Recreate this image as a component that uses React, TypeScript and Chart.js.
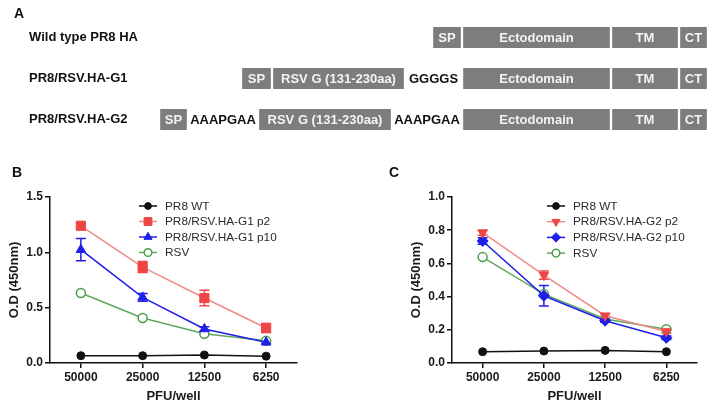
import React, { useEffect, useRef } from 'react';
import { Chart, registerables } from 'chart.js';

Chart.register(...registerables);

const FONT = '"Liberation Sans", Arial, Helvetica, sans-serif';

// ---------------- Panel A data ----------------
const constructNames = ['Wild type PR8 HA', 'PR8/RSV.HA-G1', 'PR8/RSV.HA-G2'];
const wtSegments = ['SP', 'Ectodomain', 'TM', 'CT'];
const wtLengths = [30, 149, 68, 29];
const g1Segments = ['SP', 'RSV G (131-230aa)', 'GGGGS', 'Ectodomain', 'TM', 'CT'];
const g1Lengths = [31, 133, 57, 149, 68, 29];
const g2Segments = ['SP', 'AAAPGAA', 'RSV G (131-230aa)', 'AAAPGAA', 'Ectodomain', 'TM', 'CT'];
const g2Lengths = [29, 70, 134, 70, 149, 68, 29];
const linkerNames = ['GGGGS', 'AAAPGAA'];

// ---------------- Panels B / C data ----------------
const categories = ['50000', '25000', '12500', '6250'];

const bLabels = ['PR8 WT', 'PR8/RSV.HA-G1 p2', 'PR8/RSV.HA-G1 p10', 'RSV'];
const bWT = [0.066, 0.066, 0.072, 0.062];
const bP2 = [1.24, 0.867, 0.587, 0.316];
const bP2Err = [0.03, 0.05, 0.07, 0.04];
const bP10 = [1.024, 0.593, 0.307, 0.187];
const bP10Err = [0.1, 0.035, 0.02, 0.01];
const bRSV = [0.633, 0.407, 0.265, 0.2];

const cLabels = ['PR8 WT', 'PR8/RSV.HA-G2 p2', 'PR8/RSV.HA-G2 p10', 'RSV'];
const cWT = [0.068, 0.072, 0.076, 0.068];
const cP2 = [0.785, 0.529, 0.285, 0.19];
const cP2Err = [0.015, 0.025, 0.01, 0.01];
const cP10 = [0.735, 0.405, 0.255, 0.152];
const cP10Err = [0.02, 0.062, 0.01, 0.01];
const cRSV = [0.638, 0.415, 0.265, 0.203];

const bTicks = [0, 0.5, 1.0, 1.5];
const cTicks = [0, 0.2, 0.4, 0.6, 0.8, 1.0];

// ---------------- Panel A chart ----------------
function makeDiagramConfig(): any {
  const segs = [wtSegments, g1Segments, g2Segments];
  const lens = [wtLengths, g1Lengths, g2Lengths];
  const END = 708;
  const maxSlots = Math.max(...segs.map((s) => s.length));
  const datasets: any[] = [];
  for (let k = 0; k < maxSlots; k++) {
    const data: any[] = [];
    const names: string[] = [];
    for (let i = 0; i < segs.length; i++) {
      const n = segs[i].length;
      const idx = n - 1 - k;
      if (idx < 0) {
        data.push(null);
        names.push('');
        continue;
      }
      let pos = END;
      for (let j = n - 1; j > idx; j--) pos -= lens[i][j];
      data.push([pos - lens[i][idx], pos]);
      names.push(segs[i][idx]);
    }
    datasets.push({
      data,
      names,
      grouped: false,
      barThickness: 21,
      borderSkipped: false,
      borderWidth: { top: 0, bottom: 0, left: 1.5, right: 1.5 },
      backgroundColor: (c: any) =>
        linkerNames.includes(c.dataset.names[c.dataIndex]) ? 'rgba(0,0,0,0)' : '#7d7d7d',
      borderColor: (c: any) =>
        linkerNames.includes(c.dataset.names[c.dataIndex]) ? 'rgba(0,0,0,0)' : '#ffffff',
    });
  }

  const labelPlugin = {
    id: 'diagramLabels',
    afterDatasetsDraw(chart: any) {
      const ctx = chart.ctx;
      ctx.save();
      ctx.textBaseline = 'middle';
      chart.data.datasets.forEach((ds: any, di: number) => {
        const meta = chart.getDatasetMeta(di);
        meta.data.forEach((el: any, i: number) => {
          const name = ds.names[i];
          if (!name) return;
          const { x, base, y } = el.getProps(['x', 'base', 'y'], true);
          const cx = (x + base) / 2;
          ctx.textAlign = 'center';
          if (linkerNames.includes(name)) {
            ctx.fillStyle = '#111';
            ctx.font = `bold 13px ${FONT}`;
          } else {
            ctx.fillStyle = '#f4f4f4';
            ctx.font = `bold 13px ${FONT}`;
          }
          ctx.fillText(name, cx, y + 0.5);
        });
      });
      const yScale = chart.scales.y;
      ctx.textAlign = 'left';
      ctx.fillStyle = '#111';
      ctx.font = `bold 13px ${FONT}`;
      constructNames.forEach((n, i) => {
        ctx.fillText(n, 29, yScale.getPixelForValue(i));
      });
      ctx.font = `bold 14px ${FONT}`;
      ctx.fillText('A', 14, 14);
      ctx.restore();
    },
  };

  return {
    type: 'bar',
    data: { labels: constructNames, datasets },
    options: {
      indexAxis: 'y',
      responsive: false,
      animation: false,
      devicePixelRatio: 1,
      layout: { padding: { top: 17, bottom: 0, left: 0, right: 0 } },
      scales: {
        x: { display: false, min: 0, max: 714 },
        y: { display: false },
      },
      plugins: { legend: { display: false }, tooltip: { enabled: false } },
    },
    plugins: [labelPlugin],
  };
}

// ---------------- markers ----------------
function drawMarker(ctx: CanvasRenderingContext2D, style: string, x: number, y: number, r: number, rotationDeg: number) {
  const rad0 = (rotationDeg * Math.PI) / 180;
  ctx.beginPath();
  if (style === 'circle') {
    ctx.arc(x, y, r, 0, Math.PI * 2);
  } else if (style === 'rect') {
    const s = Math.SQRT1_2 * r;
    ctx.rect(x - s, y - s, 2 * s, 2 * s);
  } else if (style === 'triangle') {
    let rad = rad0;
    ctx.moveTo(x + Math.sin(rad) * r, y - Math.cos(rad) * r);
    rad += (2 * Math.PI) / 3;
    ctx.lineTo(x + Math.sin(rad) * r, y - Math.cos(rad) * r);
    rad += (2 * Math.PI) / 3;
    ctx.lineTo(x + Math.sin(rad) * r, y - Math.cos(rad) * r);
    ctx.closePath();
  } else if (style === 'rectRot') {
    ctx.moveTo(x - r, y);
    ctx.lineTo(x, y - r);
    ctx.lineTo(x + r, y);
    ctx.lineTo(x, y + r);
    ctx.closePath();
  }
}

// ---------------- Panels B/C ----------------
const RED_LINE = '#f28a8a';
const RED_PT = '#ee4646';
const BLUE = '#1f1fe8';
const GREEN_LINE = '#5ea85e';
const GREEN_PT = '#4a9c4a';

function makeDatasets(labels: string[], wt: number[], p2: number[], p2e: number[], p10: number[], p10e: number[], rsv: number[], variant: 'B' | 'C') {
  return [
    {
      label: labels[0], data: wt, borderColor: '#111', backgroundColor: '#111',
      pointBackgroundColor: '#111', pointBorderColor: '#111', pointStyle: 'circle',
      pointRadius: 4, pointRotation: 0, borderWidth: 1.5, pointBorderWidth: 1, errors: null,
    },
    {
      label: labels[1], data: p2, borderColor: RED_LINE, backgroundColor: RED_PT,
      pointBackgroundColor: RED_PT, pointBorderColor: RED_PT,
      pointStyle: variant === 'B' ? 'rect' : 'triangle',
      pointRotation: variant === 'B' ? 0 : 180,
      pointRadius: variant === 'B' ? 6.5 : 5.5, borderWidth: 1.5, pointBorderWidth: 1,
      errors: p2e, errColor: RED_PT,
    },
    {
      label: labels[2], data: p10, borderColor: BLUE, backgroundColor: BLUE,
      pointBackgroundColor: BLUE, pointBorderColor: BLUE,
      pointStyle: variant === 'B' ? 'triangle' : 'rectRot', pointRotation: 0,
      pointRadius: 5.5, borderWidth: 1.5, pointBorderWidth: 1,
      errors: p10e, errColor: BLUE,
    },
    {
      label: labels[3], data: rsv, borderColor: GREEN_LINE, backgroundColor: '#ffffff',
      pointBackgroundColor: '#ffffff', pointBorderColor: GREEN_PT, pointStyle: 'circle',
      pointRadius: 4.5, pointRotation: 0, borderWidth: 1.5, pointBorderWidth: 1.5, errors: null,
    },
  ];
}

function makeLineConfig(p: {
  datasets: any[]; yMax: number; tickValues: number[]; padLeft: number; padRight: number;
  legendX: number; legendY: number; legendDy: number; panel: string; panelX: number;
}): any {
  const errorPlugin = {
    id: 'errorBars',
    beforeDatasetsDraw(chart: any) {
      const ctx = chart.ctx;
      const yScale = chart.scales.y;
      ctx.save();
      chart.data.datasets.forEach((ds: any, di: number) => {
        if (!ds.errors) return;
        const meta = chart.getDatasetMeta(di);
        meta.data.forEach((el: any, i: number) => {
          const v = ds.data[i];
          const e = ds.errors[i];
          const x = el.x;
          const y1 = yScale.getPixelForValue(v + e);
          const y2 = yScale.getPixelForValue(v - e);
          ctx.strokeStyle = ds.errColor;
          ctx.lineWidth = 1.5;
          ctx.beginPath();
          ctx.moveTo(x, y1); ctx.lineTo(x, y2);
          ctx.moveTo(x - 5, y1); ctx.lineTo(x + 5, y1);
          ctx.moveTo(x - 5, y2); ctx.lineTo(x + 5, y2);
          ctx.stroke();
        });
      });
      ctx.restore();
    },
  };

  const legendPlugin = {
    id: 'customLegend',
    afterDraw(chart: any) {
      const ctx = chart.ctx;
      ctx.save();
      chart.data.datasets.forEach((ds: any, i: number) => {
        const y = p.legendY + i * p.legendDy;
        const x0 = p.legendX;
        ctx.strokeStyle = ds.borderColor;
        ctx.lineWidth = 1.5;
        ctx.beginPath();
        ctx.moveTo(x0, y); ctx.lineTo(x0 + 18, y);
        ctx.stroke();
        ctx.fillStyle = ds.pointBackgroundColor;
        ctx.strokeStyle = ds.pointBorderColor;
        ctx.lineWidth = ds.pointBorderWidth;
        drawMarker(ctx, ds.pointStyle, x0 + 9, y, ds.pointRadius * 0.85, ds.pointRotation);
        ctx.fill();
        ctx.stroke();
        ctx.fillStyle = '#2a2a2a';
        ctx.font = `11.8px ${FONT}`;
        ctx.textAlign = 'left';
        ctx.textBaseline = 'middle';
        ctx.fillText(ds.label, x0 + 26, y + 0.5);
      });
      ctx.font = `bold 14px ${FONT}`;
      ctx.fillStyle = '#111';
      ctx.textAlign = 'left';
      ctx.textBaseline = 'middle';
      ctx.fillText(p.panel, p.panelX, 8);
      ctx.restore();
    },
  };

  const axisCommon = {
    grid: {
      display: true, drawOnChartArea: false, drawTicks: true, tickLength: 5,
      color: '#111', lineWidth: 1.5,
    },
    border: { display: true, color: '#111', width: 1.5 },
  };

  return {
    type: 'line',
    data: { labels: categories, datasets: p.datasets },
    options: {
      responsive: false,
      animation: false,
      devicePixelRatio: 1,
      layout: { padding: { left: p.padLeft, right: p.padRight, top: 32, bottom: 0 } },
      elements: { line: { tension: 0 } },
      plugins: { legend: { display: false }, tooltip: { enabled: false } },
      scales: {
        x: {
          type: 'category',
          offset: true,
          ...axisCommon,
          ticks: { color: '#1a1a1a', font: { family: FONT, size: 12, weight: 'bold' }, padding: 2, maxRotation: 0 },
          title: {
            display: true, text: 'PFU/well', color: '#1a1a1a',
            font: { family: FONT, size: 13, weight: 'bold' }, padding: { top: 0, bottom: 5 },
          },
          afterFit: (s: any) => { s.height = 46; },
        },
        y: {
          type: 'linear',
          min: 0,
          max: p.yMax,
          ...axisCommon,
          afterBuildTicks: (s: any) => { s.ticks = p.tickValues.map((v) => ({ value: v })); },
          ticks: {
            color: '#1a1a1a', font: { family: FONT, size: 12, weight: 'bold' }, padding: 2,
            callback: (v: any) => Number(v).toFixed(1),
          },
          title: {
            display: true, text: 'O.D (450nm)', color: '#1a1a1a',
            font: { family: FONT, size: 13, weight: 'bold' }, padding: { top: 7, bottom: 0 },
          },
          afterFit: (s: any) => { s.width = 50; },
        },
      },
    },
    plugins: [errorPlugin, legendPlugin],
  };
}

function ChartCanvas({ makeConfig, left, top, width, height }: any) {
  const ref = useRef<HTMLCanvasElement>(null);
  useEffect(() => {
    const chart = new Chart(ref.current as HTMLCanvasElement, makeConfig());
    return () => chart.destroy();
  }, []);
  return (
    <canvas
      ref={ref}
      width={width}
      height={height}
      style={{ position: 'absolute', left, top, width, height, display: 'block' }}
    />
  );
}

export default function App() {
  useEffect(() => {
    document.body.style.margin = '0';
  }, []);
  return (
    <div style={{ position: 'fixed', left: 0, top: 0, width: 714, height: 409, background: '#fff', overflow: 'hidden' }}>
      <ChartCanvas makeConfig={makeDiagramConfig} left={0} top={0} width={714} height={140} />
      <ChartCanvas
        makeConfig={() =>
          makeLineConfig({
            datasets: makeDatasets(bLabels, bWT, bP2, bP2Err, bP10, bP10Err, bRSV, 'B'),
            yMax: 1.5, tickValues: bTicks, padLeft: 0, padRight: 63,
            legendX: 139, legendY: 41, legendDy: 15.5, panel: 'B', panelX: 12,
          })
        }
        left={0} top={165} width={360} height={244}
      />
      <ChartCanvas
        makeConfig={() =>
          makeLineConfig({
            datasets: makeDatasets(cLabels, cWT, cP2, cP2Err, cP10, cP10Err, cRSV, 'C'),
            yMax: 1.0, tickValues: cTicks, padLeft: 42, padRight: 17,
            legendX: 187, legendY: 41, legendDy: 15.7, panel: 'C', panelX: 29,
          })
        }
        left={360} top={165} width={354} height={244}
      />
    </div>
  );
}
